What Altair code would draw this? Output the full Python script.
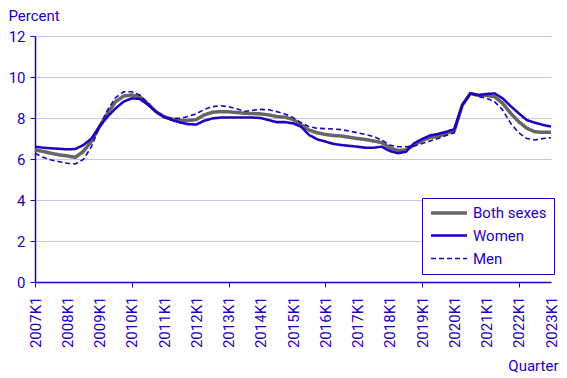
import altair as alt
import pandas as pd

series_names = ["Both sexes", "Women", "Men"]
start_year = 2007

both = [6.44, 6.37, 6.28, 6.20, 6.15, 6.08, 6.37, 6.86, 7.58, 8.23, 8.80, 9.07, 9.12,
        9.04, 8.70, 8.31, 8.06, 7.95, 7.88, 7.88, 7.92, 8.15, 8.28, 8.31, 8.30, 8.27,
        8.23, 8.22, 8.20, 8.15, 8.07, 8.04, 7.93, 7.67, 7.41, 7.28, 7.20, 7.15, 7.12,
        7.06, 7.00, 6.95, 6.88, 6.80, 6.55, 6.41, 6.44, 6.68, 6.90, 7.05, 7.10, 7.25,
        7.38, 8.63, 9.20, 9.10, 9.10, 9.04, 8.72, 8.23, 7.82, 7.50, 7.33, 7.30, 7.30]
women = [6.60, 6.55, 6.52, 6.50, 6.47, 6.49, 6.68, 7.00, 7.58, 8.07, 8.47, 8.80, 8.96,
         8.93, 8.65, 8.31, 8.05, 7.90, 7.78, 7.70, 7.68, 7.87, 7.98, 8.02, 8.02, 8.02,
         8.02, 8.02, 8.00, 7.90, 7.80, 7.80, 7.74, 7.58, 7.17, 6.96, 6.85, 6.74, 6.68,
         6.64, 6.60, 6.55, 6.55, 6.60, 6.39, 6.28, 6.35, 6.76, 6.97, 7.15, 7.22, 7.33,
         7.45, 8.63, 9.20, 9.12, 9.17, 9.20, 8.96, 8.58, 8.23, 7.90, 7.77, 7.66, 7.58]
men = [6.28, 6.08, 5.95, 5.87, 5.79, 5.76, 5.98, 6.60, 7.58, 8.39, 9.00, 9.28, 9.28,
       9.12, 8.72, 8.31, 8.06, 7.98, 7.98, 8.08, 8.20, 8.42, 8.55, 8.60, 8.55, 8.45,
       8.32, 8.38, 8.42, 8.40, 8.31, 8.20, 8.02, 7.77, 7.58, 7.50, 7.48, 7.46, 7.43,
       7.36, 7.28, 7.20, 7.09, 6.93, 6.68, 6.60, 6.60, 6.63, 6.76, 6.88, 7.00, 7.15,
       7.28, 8.63, 9.20, 9.04, 8.96, 8.80, 8.39, 7.74, 7.28, 7.00, 6.93, 7.00, 7.04]

y_ticks = [0, 2, 4, 6, 8, 10, 12]
x_label_values = list(range(0, 65, 4))

rows = []
for k, (name, vals) in enumerate(zip(series_names, [both, women, men])):
    for i, v in enumerate(vals):
        rows.append({"q": i, "value": v, "series": name, "ord": k})
df = pd.DataFrame(rows)

BLUE = "#1E00BE"
GRAY = "#666666"
GRID = "#C8C3F0"
FONT = "Roboto"
FS = 15

leg = alt.Legend(
    title=None, orient="none", legendX=387, legendY=162,
    padding=7, strokeColor=BLUE, fillColor="white",
    symbolType="M-3,0H3", symbolSize=144, symbolOffset=12,
    labelFontSize=FS, labelFont=FONT,
    labelColor=BLUE, labelOffset=16, rowPadding=7,
)

chart = alt.Chart(df).mark_line().encode(
    x=alt.X("q:Q", scale=alt.Scale(domain=[0, 64], nice=False, zero=False),
            axis=alt.Axis(values=x_label_values,
                          labelExpr="(" + str(start_year) + " + datum.value/4) + 'K1'",
                          labelAngle=-90, labelAlign="right", labelBaseline="middle",
                          grid=False, tickSize=5, labelPadding=9,
                          tickOpacity={"condition": {"test": "datum.value % 12 === 0", "value": 1}, "value": 0},
                          title="Quarter", titleX=523, titleY=88, titleAlign="right",
                          titleAnchor="end", titleBaseline="alphabetic")),
    y=alt.Y("value:Q", scale=alt.Scale(domain=[0, 12], nice=False),
            axis=alt.Axis(values=y_ticks, grid=True, gridColor=GRID, tickSize=5,
                          labelPadding=5, title="Percent", titleAngle=0, titleX=-27,
                          titleY=-16, titleAlign="left", titleBaseline="alphabetic")),
    color=alt.Color("series:N", scale=alt.Scale(domain=series_names, range=[GRAY, BLUE, BLUE]), legend=leg),
    strokeDash=alt.StrokeDash("series:N", scale=alt.Scale(domain=series_names, range=[[1, 0], [1, 0], [5, 3]]), legend=leg),
    strokeWidth=alt.StrokeWidth("series:N", scale=alt.Scale(domain=series_names, range=[3.5, 1.6, 1.6]), legend=leg),
    order=alt.Order("ord:Q"),
    detail="series:N",
).properties(
    width=516, height=246,
    autosize=alt.AutoSizeParams(type="none"),
    padding={"left": 27, "top": 28, "right": 8, "bottom": 92},
).configure_view(stroke=None).configure_axis(
    domainColor=BLUE, tickColor=BLUE, labelColor=BLUE, titleColor=BLUE,
    labelFont=FONT, titleFont=FONT, labelFontSize=FS, titleFontSize=FS,
    titleFontWeight="normal", domainWidth=1.5,
)

chart.save("out.html", embed_options={"renderer": "svg", "actions": False})
